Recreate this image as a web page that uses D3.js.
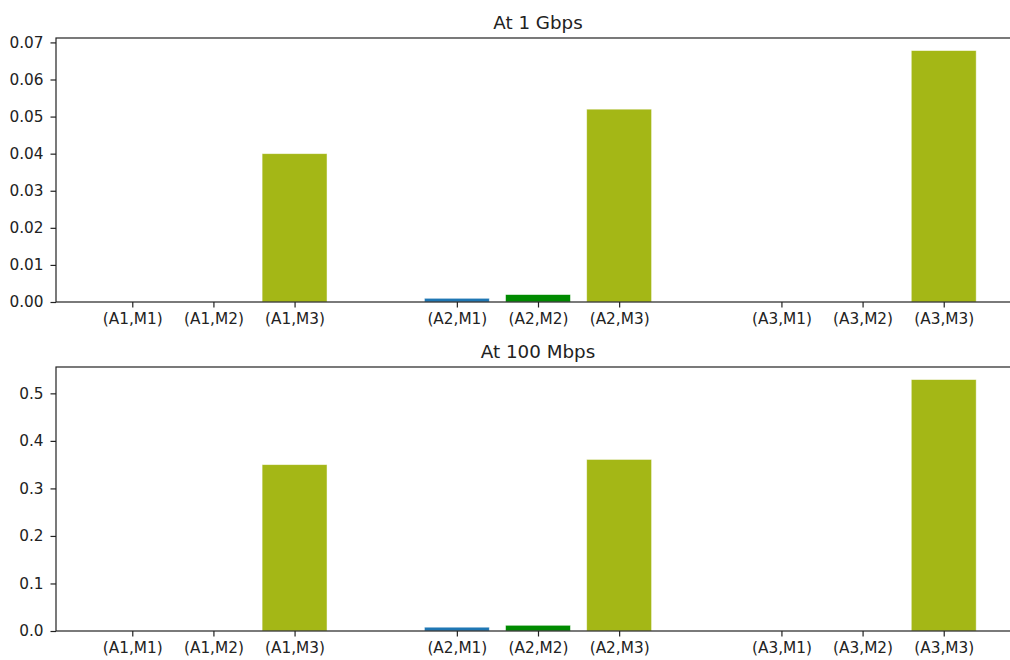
<!DOCTYPE html>
<html>
<head>
<meta charset="utf-8">
<script src="https://cdn.jsdelivr.net/npm/d3@7"></script>
<style>
  html, body { margin: 0; padding: 0; background: #fff; overflow: hidden; }
  svg { display: block; font-family: "DejaVu Sans", sans-serif; }
</style>
</head>
<body>
<svg id="chart" width="1010" height="660"></svg>
<script>
// Category labels and their slot positions (groups separated by an empty slot)
const categories = ["(A1,M1)", "(A1,M2)", "(A1,M3)", "(A2,M1)", "(A2,M2)", "(A2,M3)", "(A3,M1)", "(A3,M2)", "(A3,M3)"];
const slots = [0, 1, 2, 4, 5, 6, 8, 9, 10];
const barKinds = ["M1", "M2", "M3", "M1", "M2", "M3", "M1", "M2", "M3"];

// Measured values per link speed
const values1G = [0, 0, 0.040, 0.001, 0.002, 0.052, 0, 0, 0.0678];
const values100M = [0, 0, 0.350, 0.008, 0.012, 0.361, 0, 0, 0.529];

const ticks1G = [0, 0.01, 0.02, 0.03, 0.04, 0.05, 0.06, 0.07];
const ticks100M = [0, 0.1, 0.2, 0.3, 0.4, 0.5];

const titles = ["At 1 Gbps", "At 100 Mbps"];

const colors = { M1: "#1f77b4", M2: "#008b00", M3: "#a4b716" };

const svg = d3.select("#chart");
const left = 56, right = 1020;
const fontTick = 15.3, fontTitle = 18.3;
const panels = [
  { top: 38, bottom: 302, values: values1G, ticks: ticks1G, fmt: d3.format(".2f"), title: titles[0] },
  { top: 367, bottom: 631, values: values100M, ticks: ticks100M, fmt: d3.format(".1f"), title: titles[1] }
];

const barWidth = 0.8;
const x = d3.scaleLinear()
  .domain([-0.4 - 0.54, 10.4 + 0.54])
  .range([left, right]);

panels.forEach(p => {
  const ymax = d3.max(p.values) * 1.05;
  const y = d3.scaleLinear().domain([0, ymax]).range([p.bottom, p.top]);
  const g = svg.append("g");

  // Bars
  g.selectAll("rect.bar")
    .data(p.values.map((v, i) => ({ v, s: slots[i], k: barKinds[i] })))
    .join("rect")
    .attr("class", "bar")
    .attr("x", d => x(d.s - barWidth / 2))
    .attr("width", d => x(d.s + barWidth / 2) - x(d.s - barWidth / 2))
    .attr("y", d => y(d.v))
    .attr("height", d => y(0) - y(d.v))
    .attr("fill", d => colors[d.k])
    .attr("stroke", d => d.v > 0 ? "rgba(255,255,255,0.6)" : "none")
    .attr("stroke-width", 0.8);

  // Y axis
  const yAxis = g.append("g")
    .attr("transform", `translate(${left},0)`)
    .call(d3.axisLeft(y).tickValues(p.ticks).tickFormat(p.fmt).tickSize(5.5).tickPadding(7));
  yAxis.select(".domain").remove();
  yAxis.selectAll("line").attr("stroke", "#222").attr("stroke-width", 1.2);
  yAxis.selectAll("text").attr("font-size", fontTick).attr("fill", "#222").attr("font-family", "DejaVu Sans");

  // X axis
  const xAxis = g.append("g")
    .attr("transform", `translate(0,${p.bottom})`)
    .call(d3.axisBottom(x).tickValues(slots).tickFormat((d, i) => categories[i]).tickSize(5.5).tickPadding(5.3));
  xAxis.select(".domain").remove();
  xAxis.selectAll("line").attr("stroke", "#222").attr("stroke-width", 1.2);
  xAxis.selectAll("text").attr("font-size", fontTick).attr("fill", "#222").attr("font-family", "DejaVu Sans");

  // Frame
  g.append("rect")
    .attr("x", left).attr("y", p.top)
    .attr("width", right - left).attr("height", p.bottom - p.top)
    .attr("fill", "none").attr("stroke", "#222").attr("stroke-width", 1.2);

  // Title
  g.append("text")
    .attr("x", (left + right) / 2)
    .attr("y", p.top - 9)
    .attr("text-anchor", "middle")
    .attr("font-size", fontTitle)
    .attr("fill", "#222")
    .text(p.title);
});
</script>
</body>
</html>
